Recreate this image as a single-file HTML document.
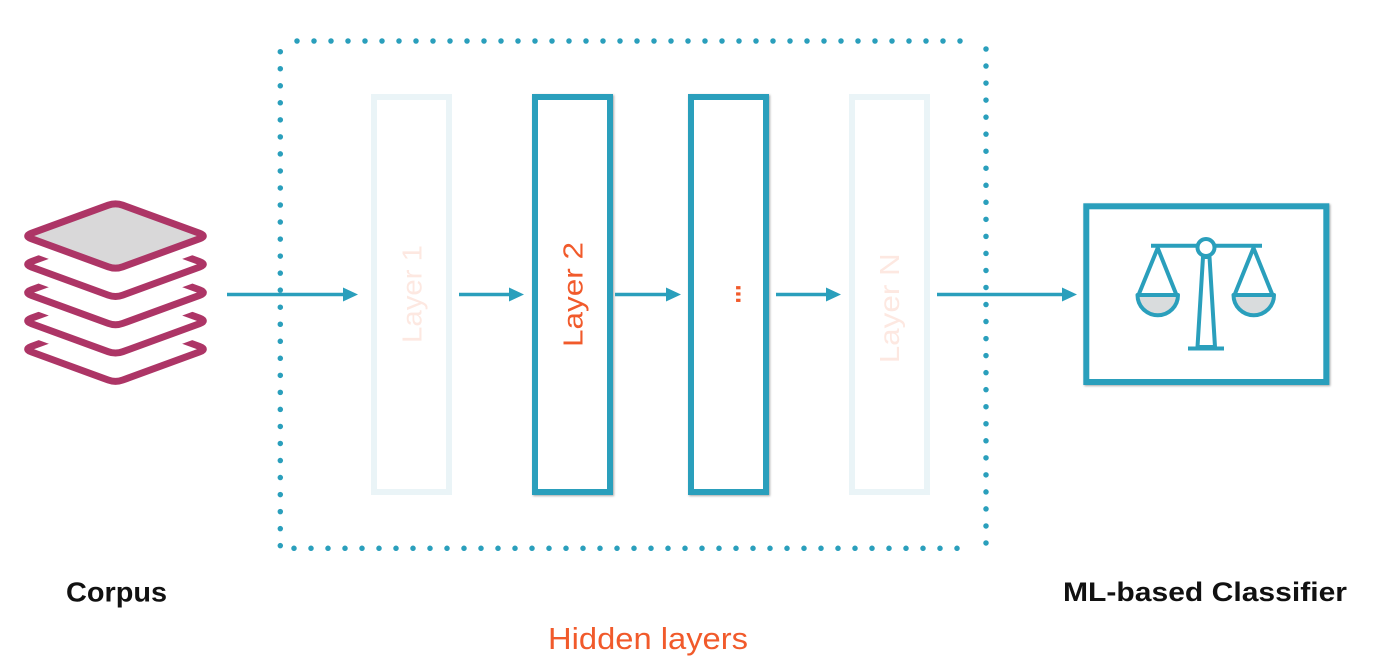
<!DOCTYPE html>
<html>
<head>
<meta charset="utf-8">
<style>
  html,body{margin:0;padding:0;background:#ffffff;}
  body{width:1381px;height:670px;overflow:hidden;}
  svg{display:block;}
  text{font-family:"Liberation Sans", sans-serif;}
</style>
</head>
<body>
<svg width="1381" height="670" viewBox="0 0 1381 670" xmlns="http://www.w3.org/2000/svg">
  <defs>
    <path id="dm" d="M -84.2,-2.7 L -7.3,-30.8 Q 0,-33.5 7.3,-30.8 L 84.2,-2.7 Q 91.5,0 84.2,2.7 L 7.3,30.8 Q 0,33.5 -7.3,30.8 L -84.2,2.7 Q -91.5,0 -84.2,-2.7 Z"/>
    <filter id="sh" x="-10%" y="-10%" width="130%" height="130%">
      <feDropShadow dx="1" dy="1" stdDeviation="1" flood-color="#000" flood-opacity="0.35"/>
    </filter>
  </defs>

  <rect width="1381" height="670" fill="#ffffff"/>

  <!-- Corpus stack icon (bottom to top) -->
  <g stroke-linejoin="round">
    <use href="#dm" transform="translate(115.5,349.2)" fill="#ffffff" stroke="#ad3566" stroke-width="7"/>
    <use href="#dm" transform="translate(115.5,320.9)" fill="none" stroke="#ffffff" stroke-width="26"/>
    <use href="#dm" transform="translate(115.5,320.9)" fill="#ffffff" stroke="#ad3566" stroke-width="7"/>
    <use href="#dm" transform="translate(115.5,292.6)" fill="none" stroke="#ffffff" stroke-width="26"/>
    <use href="#dm" transform="translate(115.5,292.6)" fill="#ffffff" stroke="#ad3566" stroke-width="7"/>
    <use href="#dm" transform="translate(115.5,264.3)" fill="none" stroke="#ffffff" stroke-width="26"/>
    <use href="#dm" transform="translate(115.5,264.3)" fill="#ffffff" stroke="#ad3566" stroke-width="7"/>
    <use href="#dm" transform="translate(115.5,236)" fill="none" stroke="#ffffff" stroke-width="26"/>
    <use href="#dm" transform="translate(115.5,236)" fill="#d9d8d9" stroke="#ad3566" stroke-width="7"/>
  </g>

  <!-- Dotted hidden layers frame -->
  <g stroke="#2a9fbc" stroke-width="5.5" stroke-linecap="round" fill="none">
    <line x1="297" y1="41" x2="977" y2="41" stroke-dasharray="0 17"/>
    <line x1="280.3" y1="51.7" x2="280.3" y2="545.7" stroke-dasharray="0 17.034"/>
    <line x1="986" y1="49" x2="986" y2="543" stroke-dasharray="0 17.034"/>
    <line x1="294" y1="548.3" x2="974" y2="548.3" stroke-dasharray="0 17"/>
  </g>

  <!-- Layer boxes -->
  <rect x="374" y="97" width="75" height="395" fill="#ffffff" stroke="#eaf4f7" stroke-width="6"/>
  <rect x="535" y="97" width="75" height="395" fill="#ffffff" stroke="#2a9fbc" stroke-width="6" filter="url(#sh)"/>
  <rect x="691" y="97" width="75" height="395" fill="#ffffff" stroke="#2a9fbc" stroke-width="6" filter="url(#sh)"/>
  <rect x="852" y="97" width="75" height="395" fill="#ffffff" stroke="#eaf4f7" stroke-width="6"/>

  <!-- Layer labels -->
  <text transform="translate(421.5,294) rotate(-90)" text-anchor="middle" font-size="28" fill="#fde8e1" textLength="98" lengthAdjust="spacingAndGlyphs">Layer 1</text>
  <text transform="translate(582.5,294.5) rotate(-90)" text-anchor="middle" font-size="28" fill="#f15a2b" textLength="105" lengthAdjust="spacingAndGlyphs">Layer 2</text>
  <text transform="translate(740.5,294) rotate(-90)" text-anchor="middle" font-size="30" font-weight="bold" fill="#f15a2b" textLength="19" lengthAdjust="spacingAndGlyphs">...</text>
  <text transform="translate(899,308.3) rotate(-90)" text-anchor="middle" font-size="28" fill="#fde8e1" textLength="110" lengthAdjust="spacingAndGlyphs">Layer N</text>

  <!-- Arrows -->
  <g stroke="#2a9fbc" stroke-width="3.5" fill="none">
    <line x1="227" y1="294.5" x2="346" y2="294.5"/>
    <line x1="459" y1="294.5" x2="511" y2="294.5"/>
    <line x1="615" y1="294.5" x2="668" y2="294.5"/>
    <line x1="776" y1="294.5" x2="828" y2="294.5"/>
    <line x1="937" y1="294.5" x2="1064" y2="294.5"/>
  </g>
  <g fill="#2a9fbc">
    <polygon points="343,287.5 358,294.5 343,301.5"/>
    <polygon points="509,287.5 524,294.5 509,301.5"/>
    <polygon points="666,287.5 681,294.5 666,301.5"/>
    <polygon points="826,287.5 841,294.5 826,301.5"/>
    <polygon points="1062,287.5 1077,294.5 1062,301.5"/>
  </g>

  <!-- Classifier box -->
  <rect x="1086.3" y="206.3" width="240" height="175.7" fill="#ffffff" stroke="#2a9fbc" stroke-width="6" filter="url(#sh)"/>

  <!-- Scales icon -->
  <g stroke="#2a9fbc" stroke-width="4" fill="none" stroke-linejoin="round">
    <line x1="1151" y1="245.7" x2="1262" y2="245.7"/>
    <polygon points="1203,257 1209.5,257 1215,347 1197.5,347" fill="#ffffff"/>
    <line x1="1188" y1="348.5" x2="1224" y2="348.5"/>
    <circle cx="1206" cy="247.5" r="8.5" fill="#ffffff"/>
    <polyline points="1138.5,295 1157.7,248 1176.5,295"/>
    <path d="M 1137.5,295 L 1178,295 A 20.25,20.25 0 0 1 1137.5,295 Z" fill="#d9dcdd"/>
    <polyline points="1234.5,295 1253.5,248 1272.5,295"/>
    <path d="M 1233.5,295 L 1274,295 A 20.25,20.25 0 0 1 1233.5,295 Z" fill="#d9dcdd"/>
  </g>

  <!-- Bottom labels -->
  <text x="66" y="601.5" font-size="27.5" font-weight="bold" fill="#111111" textLength="101" lengthAdjust="spacingAndGlyphs">Corpus</text>
  <text x="1063" y="601" font-size="27" font-weight="bold" fill="#111111" textLength="284" lengthAdjust="spacingAndGlyphs">ML-based Classifier</text>
  <text x="548" y="649" font-size="31" fill="#f15a2b" textLength="200" lengthAdjust="spacingAndGlyphs">Hidden layers</text>
</svg>
</body>
</html>
